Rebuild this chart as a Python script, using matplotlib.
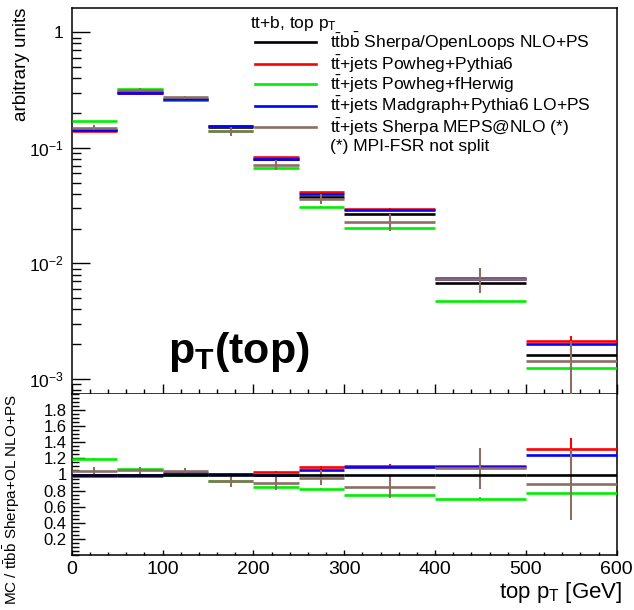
import numpy as np
import matplotlib
matplotlib.use('Agg')
import matplotlib.pyplot as plt
from matplotlib.ticker import FixedLocator, MultipleLocator, LogLocator, NullFormatter, FixedFormatter
from matplotlib.lines import Line2D

plt.rcParams['font.family'] = ['Liberation Sans', 'DejaVu Sans']
plt.rcParams['mathtext.fontset'] = 'custom'
plt.rcParams['mathtext.rm'] = 'Liberation Sans'
plt.rcParams['mathtext.it'] = 'Liberation Sans:italic'
plt.rcParams['mathtext.bf'] = 'Liberation Sans:bold'
plt.rcParams['mathtext.sf'] = 'Liberation Sans'

# ---------------- data ----------------
bin_edges = [0, 50, 100, 150, 200, 250, 300, 400, 500, 600]

ttbb_sherpa_ol = [0.143, 0.304, 0.261, 0.152, 0.0802, 0.0377, 0.0268, 0.00679, 0.00162]
ttbb_sherpa_ol_err = [0.0007, 0.0012, 0.0010, 0.0008, 0.0005, 0.0003, 0.0002, 0.00008, 0.00003]

powheg_pythia6 = [0.1401, 0.2979, 0.2636, 0.1535, 0.0826, 0.0411, 0.02975, 0.00747, 0.00214]
powheg_pythia6_err = [0.0010, 0.0015, 0.0013, 0.0012, 0.0010, 0.0007, 0.0005, 0.00020, 0.00022]

powheg_herwig = [0.1710, 0.3253, 0.2610, 0.1398, 0.0674, 0.0309, 0.0201, 0.00475, 0.00125]
powheg_herwig_err = [0.0012, 0.0018, 0.0015, 0.0012, 0.0009, 0.0006, 0.0004, 0.00012, 0.00005]

madgraph_pythia6 = [0.1416, 0.3010, 0.2649, 0.1535, 0.0798, 0.0398, 0.02921, 0.00740, 0.00202]
madgraph_pythia6_err = [0.0010, 0.0015, 0.0013, 0.0012, 0.0009, 0.0006, 0.0004, 0.00015, 0.00012]

sherpa_meps = [0.1487, 0.3192, 0.2727, 0.1398, 0.0714, 0.0362, 0.02278, 0.00730, 0.00142]
sherpa_meps_err = [0.0074, 0.0128, 0.0082, 0.0122, 0.0068, 0.0034, 0.0038, 0.00175, 0.00072]

series_labels = [
    r'$\mathrm{t\bar{t}b\bar{b}}$ Sherpa/OpenLoops NLO+PS',
    r'$\mathrm{t\bar{t}}$+jets Powheg+Pythia6',
    r'$\mathrm{t\bar{t}}$+jets Powheg+fHerwig',
    r'$\mathrm{t\bar{t}}$+jets Madgraph+Pythia6 LO+PS',
    r'$\mathrm{t\bar{t}}$+jets Sherpa MEPS@NLO (*)',
]
legend_header = r'tt+b, top p$_{\mathrm{T}}$'
legend_note = '(*) MPI-FSR not split'
series_colors = ['#000000', '#ff0000', '#00ee00', '#0000ff', '#8c6e64']

yticks_top = [1e-3, 1e-2, 1e-1, 1]
yticklabels_top = [r'$10^{-3}$', r'$10^{-2}$', r'$10^{-1}$', '1']
yticks_ratio = [0.2, 0.4, 0.6, 0.8, 1.0, 1.2, 1.4, 1.6, 1.8]
xticks = [0, 100, 200, 300, 400, 500, 600]

# ---------------- figure ----------------
W, H = 634, 610
fig = plt.figure(figsize=(W / 100, H / 100), dpi=100)

x0, x1 = 71.7, 616.7
ax = fig.add_axes([x0 / W, 1 - 394 / H, (x1 - x0) / W, (394 - 8) / H])
axr = fig.add_axes([x0 / W, 1 - 555 / H, (x1 - x0) / W, (555 - 394) / H])

edges = np.array(bin_edges, dtype=float)
lefts, rights = edges[:-1], edges[1:]
centers = 0.5 * (lefts + rights)

all_vals = [ttbb_sherpa_ol, powheg_pythia6, powheg_herwig, madgraph_pythia6, sherpa_meps]
all_errs = [ttbb_sherpa_ol_err, powheg_pythia6_err, powheg_herwig_err, madgraph_pythia6_err, sherpa_meps_err]

ref = np.array(ttbb_sherpa_ol)

for i in [0, 1, 2, 3, 4]:
    v = np.array(all_vals[i]); e = np.array(all_errs[i]); c = series_colors[i]
    ax.hlines(v, lefts, rights, colors=c, lw=1.9, zorder=3 + i)
    ax.vlines(centers, v - e, v + e, colors=c, lw=1.5, zorder=3 + i)

for i in [1, 2, 3, 4, 0]:
    v = np.array(all_vals[i]) / ref
    e = np.array(all_errs[i]) / ref if i != 0 else np.zeros_like(ref)
    c = series_colors[i]
    z = 3 + (i if i else 10)
    axr.hlines(v, lefts, rights, colors=c, lw=1.9, zorder=z)
    axr.vlines(centers, v - e, v + e, colors=c, lw=1.5, zorder=z)

# ---------------- top axes ----------------
ax.set_yscale('log')
ax.set_xlim(0, 600)
ax.set_ylim(10 ** (-3.130), 10 ** 0.210)
ax.yaxis.set_major_locator(FixedLocator(yticks_top))
ax.yaxis.set_major_formatter(FixedFormatter(yticklabels_top))
ax.yaxis.set_minor_locator(LogLocator(base=10, subs=np.arange(2, 10), numticks=20))
ax.yaxis.set_minor_formatter(NullFormatter())
ax.xaxis.set_major_locator(MultipleLocator(100))
ax.xaxis.set_minor_locator(MultipleLocator(20))
ax.tick_params(axis='x', which='both', direction='in', labelbottom=False, top=False)
ax.tick_params(axis='x', which='major', length=7, width=1)
ax.tick_params(axis='x', which='minor', length=3.6, width=1)
ax.tick_params(axis='y', which='both', direction='in', right=False, labelsize=12.5, pad=6)
ax.tick_params(axis='y', which='major', length=13, width=1)
ax.tick_params(axis='y', which='minor', length=6.5, width=1)
for s in ax.spines.values():
    s.set_linewidth(1.1)

# legend (manual, ROOT style)
fs_leg = 12.5
ax.text(0.327, 0.961, legend_header, transform=ax.transAxes, fontsize=fs_leg,
        ha='left', va='center')
rows_y = [0.911, 0.855, 0.803, 0.747, 0.692]
for yy, lab, c in zip(rows_y, series_labels, series_colors):
    ax.add_line(Line2D([0.336, 0.448], [yy, yy], transform=ax.transAxes, color=c, lw=1.9))
    ax.text(0.474, yy, lab, transform=ax.transAxes, fontsize=fs_leg, ha='left', va='center')
ax.text(0.474, 0.642, legend_note, transform=ax.transAxes, fontsize=fs_leg, ha='left', va='center')

ax.text(0.177, 0.080, r'$\mathbf{p_{T}(top)}$', transform=ax.transAxes, fontsize=31,
        ha='left', va='baseline')

fig.text(22 / W, 1 - 8 / H, 'arbitrary units', rotation=90, fontsize=13.5,
         ha='center', va='top')

# ---------------- ratio axes ----------------
axr.set_xlim(0, 600)
axr.set_ylim(0, 2.0)
axr.yaxis.set_major_locator(FixedLocator(yticks_ratio))
axr.yaxis.set_major_formatter(FixedFormatter(['%g' % t for t in yticks_ratio]))
axr.yaxis.set_minor_locator(MultipleLocator(0.05))
axr.xaxis.set_major_locator(FixedLocator(xticks))
axr.xaxis.set_major_formatter(FixedFormatter([str(t) for t in xticks]))
axr.xaxis.set_minor_locator(MultipleLocator(20))
axr.tick_params(axis='x', which='both', direction='in', top=False, labelsize=14, pad=4)
axr.tick_params(axis='x', which='major', length=3.8, width=1)
axr.tick_params(axis='x', which='minor', length=2.2, width=1)
axr.tick_params(axis='y', which='both', direction='in', right=False, labelsize=12, pad=3.6)
axr.tick_params(axis='y', which='major', length=9, width=1)
axr.tick_params(axis='y', which='minor', length=5, width=1)
for s in axr.spines.values():
    s.set_linewidth(1.1)
axr.spines['top'].set_visible(False)

fig.text(622 / W, 1 - 598 / H, r'top p$_{\mathrm{T}}$ [GeV]', fontsize=16,
         ha='right', va='baseline')
fig.text(12 / W, 1 - 394 / H, r'MC / $\mathrm{t\bar{t}b\bar{b}}$ Sherpa+OL NLO+PS',
         rotation=90, fontsize=11, ha='center', va='top')

fig.savefig('out.png', dpi=100)
